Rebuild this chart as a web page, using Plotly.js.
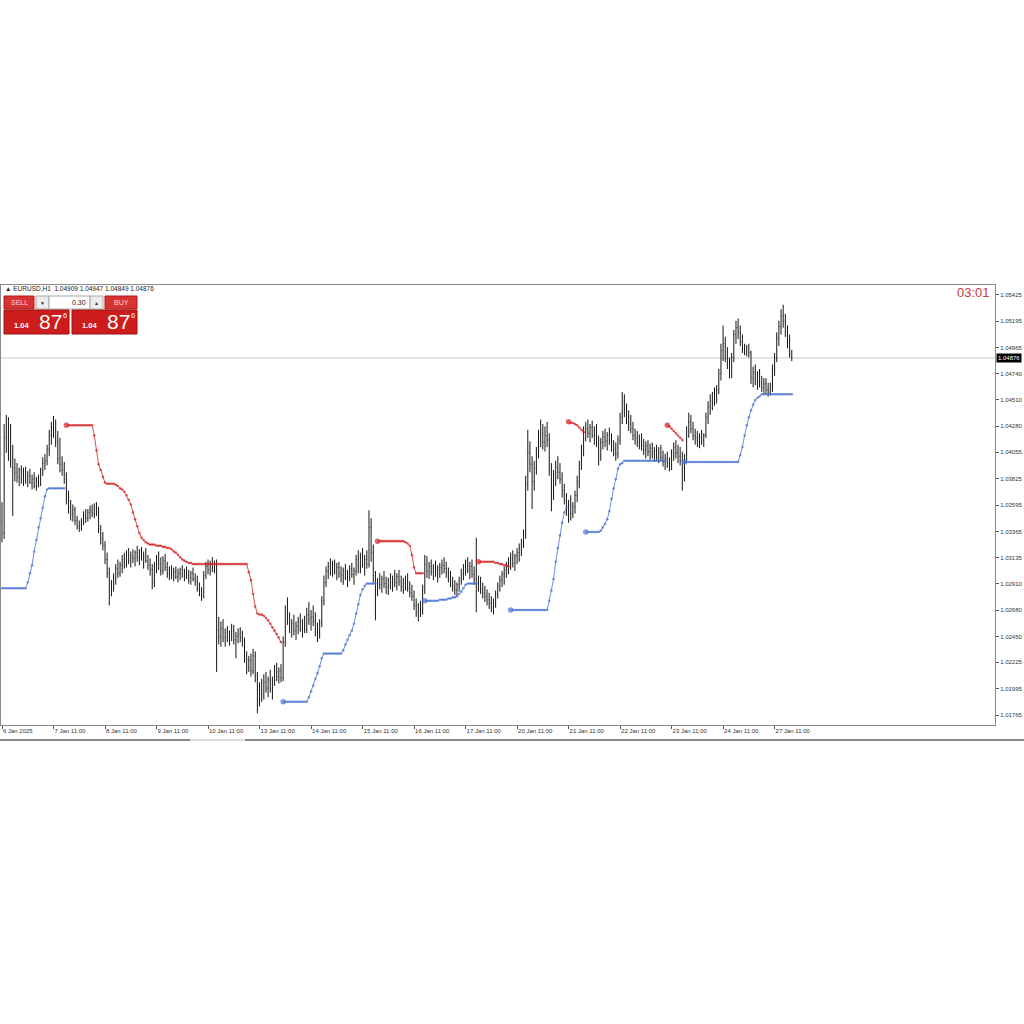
<!DOCTYPE html>
<html>
<head>
<meta charset="utf-8">
<script src="https://cdn.plot.ly/plotly-3.0.1.min.js"></script>
<style>html,body{margin:0;padding:0;background:#fff;}#chart{width:1024px;height:1024px;}</style>
</head>
<body>
<div id="chart"></div>
<script>
// ---- EURUSD H1 bars ----
const openP = [
1.0345,1.0335,1.0418,1.0425,1.0410,1.0400,1.0392,1.0388,1.0384,1.0390,
1.0382,1.0387,1.0380,1.0385,1.0379,1.0382,1.0376,1.0380,1.0378,1.0390,
1.0396,1.0398,1.0408,1.0420,1.0428,1.0425,1.0415,1.0400,1.0395,1.0390,
1.0382,1.0365,1.0358,1.0352,1.0355,1.0346,1.0341,1.0339,1.0345,1.0350,
1.0348,1.0353,1.0355,1.0352,1.0357,1.0354,1.0338,1.0330,1.0324,1.0312,
1.0300,1.0285,1.0290,1.0296,1.0304,1.0300,1.0307,1.0312,1.0308,1.0316,
1.0311,1.0315,1.0313,1.0318,1.0314,1.0317,1.0312,1.0315,1.0311,1.0307,
1.0303,1.0292,1.0306,1.0312,1.0308,1.0302,1.0311,1.0305,1.0300,1.0302,
1.0298,1.0301,1.0297,1.0300,1.0303,1.0299,1.0301,1.0298,1.0296,1.0300,
1.0295,1.0293,1.0287,1.0283,1.0280,1.0298,1.0306,1.0303,1.0308,1.0305,
1.0307,1.0250,1.0245,1.0252,1.0244,1.0248,1.0243,1.0246,1.0250,1.0242,
1.0245,1.0247,1.0244,1.0240,1.0226,1.0218,1.0224,1.0215,1.0228,1.0210,
1.0190,1.0198,1.0195,1.0205,1.0200,1.0207,1.0199,1.0206,1.0214,1.0210,
1.0215,1.0209,1.0240,1.0265,1.0260,1.0252,1.0256,1.0250,1.0254,1.0258,
1.0252,1.0256,1.0251,1.0264,1.0260,1.0262,1.0258,1.0250,1.0246,1.0256,
1.0276,1.0292,1.0302,1.0306,1.0304,1.0308,1.0302,1.0305,1.0300,1.0298,
1.0302,1.0296,1.0300,1.0304,1.0299,1.0302,1.0312,1.0306,1.0314,1.0309,
1.0312,1.0308,1.0340,1.0318,1.0298,1.0285,1.0292,1.0290,1.0295,1.0291,
1.0288,1.0293,1.0290,1.0295,1.0292,1.0297,1.0293,1.0288,1.0291,1.0294,
1.0287,1.0283,1.0280,1.0272,1.0266,1.0270,1.0268,1.0285,1.0308,1.0302,
1.0306,1.0301,1.0304,1.0300,1.0303,1.0305,1.0307,1.0304,1.0300,1.0296,
1.0292,1.0288,1.0286,1.0290,1.0294,1.0300,1.0305,1.0307,1.0303,1.0306,
1.0299,1.0295,1.0290,1.0292,1.0286,1.0283,1.0280,1.0277,1.0274,1.0271,
1.0275,1.0282,1.0289,1.0294,1.0299,1.0303,1.0306,1.0310,1.0313,1.0309,
1.0315,1.0318,1.0322,1.0328,1.0334,1.0378,1.0405,1.0395,1.0380,1.0392,
1.0405,1.0418,1.0422,1.0414,1.0420,1.0416,1.0390,1.0368,1.0384,1.0392,
1.0388,1.0382,1.0372,1.0364,1.0356,1.0360,1.0352,1.0358,1.0368,1.0380,
1.0394,1.0406,1.0423,1.0426,1.0422,1.0427,1.0420,1.0424,1.0414,1.0402,
1.0414,1.0419,1.0415,1.0420,1.0416,1.0410,1.0408,1.0404,1.0416,1.0436,
1.0450,1.0442,1.0436,1.0430,1.0426,1.0420,1.0418,1.0414,1.0416,1.0411,
1.0408,1.0411,1.0406,1.0409,1.0404,1.0407,1.0402,1.0405,1.0401,1.0397,
1.0400,1.0396,1.0392,1.0404,1.0410,1.0405,1.0402,1.0398,1.0385,1.0400,
1.0424,1.0432,1.0426,1.0420,1.0418,1.0415,1.0419,1.0416,1.0420,1.0436,
1.0445,1.0450,1.0454,1.0456,1.0460,1.0474,1.0494,1.0500,1.0490,1.0482,
1.0474,1.0488,1.0508,1.0514,1.0510,1.0502,1.0496,1.0494,1.0496,1.0492,
1.0470,1.0475,1.0468,1.0472,1.0466,1.0462,1.0465,1.0460,1.0458,1.0462,
1.0478,1.0488,1.0505,1.0515,1.0524,1.0520,1.0510,1.0502,1.04909
];
const highP = [
1.0362,1.0430,1.0438,1.0436,1.0430,1.0412,1.0400,1.0396,1.0392,1.0394,
1.0392,1.0393,1.0389,1.0391,1.0386,1.0388,1.0384,1.0386,1.0392,1.0401,
1.0404,1.0412,1.0425,1.0432,1.0437,1.0434,1.0424,1.0418,1.0402,1.0397,
1.0388,1.0372,1.0364,1.0360,1.0358,1.0350,1.0346,1.0348,1.0354,1.0356,
1.0356,1.0359,1.0360,1.0361,1.0362,1.0358,1.0342,1.0336,1.0328,1.0318,
1.0305,1.0294,1.0300,1.0308,1.0312,1.0310,1.0316,1.0318,1.0320,1.0322,
1.0319,1.0321,1.0320,1.0324,1.0321,1.0323,1.0319,1.0322,1.0316,1.0313,
1.0308,1.0310,1.0316,1.0319,1.0314,1.0315,1.0317,1.0310,1.0306,1.0307,
1.0305,1.0306,1.0304,1.0305,1.0307,1.0304,1.0306,1.0303,1.0302,1.0305,
1.0300,1.0298,1.0292,1.0288,1.0302,1.0310,1.0312,1.0311,1.0314,1.0311,
1.0312,1.0262,1.0258,1.0260,1.0252,1.0254,1.0250,1.0256,1.0255,1.0249,
1.0252,1.0253,1.0250,1.0244,1.0232,1.0228,1.0230,1.0234,1.0232,1.0214,
1.0205,1.0208,1.0212,1.0214,1.0210,1.0216,1.0210,1.0220,1.0222,1.0218,
1.0221,1.0245,1.0272,1.0279,1.0266,1.0260,1.0264,1.0258,1.0262,1.0265,
1.0260,1.0263,1.0270,1.0275,1.0268,1.0272,1.0266,1.0257,1.0260,1.0280,
1.0298,1.0306,1.0310,1.0313,1.0311,1.0312,1.0309,1.0310,1.0306,1.0305,
1.0308,1.0303,1.0307,1.0309,1.0305,1.0316,1.0320,1.0318,1.0322,1.0316,
1.0320,1.0355,1.0348,1.0325,1.0302,1.0296,1.0300,1.0298,1.0302,1.0297,
1.0296,1.0300,1.0298,1.0303,1.0300,1.0303,1.0298,1.0296,1.0298,1.0300,
1.0293,1.0290,1.0285,1.0278,1.0274,1.0276,1.0290,1.0316,1.0315,1.0310,
1.0312,1.0308,1.0311,1.0307,1.0309,1.0312,1.0314,1.0310,1.0305,1.0302,
1.0297,1.0294,1.0292,1.0297,1.0304,1.0308,1.0312,1.0314,1.0310,1.0312,
1.0306,1.0331,1.0298,1.0297,1.0292,1.0289,1.0286,1.0283,1.0280,1.0278,
1.0285,1.0292,1.0298,1.0302,1.0306,1.0310,1.0314,1.0318,1.0320,1.0317,
1.0322,1.0326,1.0330,1.0338,1.0385,1.0425,1.0415,1.0402,1.0398,1.0410,
1.0425,1.0434,1.0430,1.0428,1.0432,1.0422,1.0396,1.0390,1.0398,1.0402,
1.0396,1.0388,1.0378,1.0370,1.0364,1.0368,1.0362,1.0372,1.0385,1.0398,
1.0412,1.0428,1.0432,1.0434,1.0430,1.0433,1.0428,1.0430,1.0420,1.0418,
1.0424,1.0426,1.0423,1.0427,1.0422,1.0416,1.0414,1.0420,1.0440,1.0458,
1.0456,1.0448,1.0442,1.0438,1.0432,1.0426,1.0424,1.0421,1.0422,1.0417,
1.0415,1.0416,1.0413,1.0414,1.0410,1.0412,1.0410,1.0412,1.0407,1.0404,
1.0406,1.0401,1.0408,1.0414,1.0416,1.0412,1.0410,1.0406,1.0404,1.0428,
1.0440,1.0438,1.0432,1.0426,1.0424,1.0422,1.0425,1.0422,1.0440,1.0450,
1.0456,1.0458,1.0462,1.0464,1.0478,1.0500,1.0516,1.0506,1.0497,1.0488,
1.0492,1.0512,1.0520,1.0522,1.0516,1.0508,1.0500,1.0499,1.0500,1.0494,
1.0480,1.0482,1.0476,1.0478,1.0472,1.0470,1.0470,1.0466,1.0466,1.0482,
1.0492,1.0510,1.0520,1.0530,1.0534,1.0526,1.0516,1.0508,1.04947
];
const lowP = [
1.0327,1.0330,1.0405,1.0398,1.0392,1.0350,1.0380,1.0379,1.0376,1.0378,
1.0376,1.0378,1.0375,1.0378,1.0373,1.0374,1.0372,1.0375,1.0376,1.0385,
1.0390,1.0394,1.0402,1.0412,1.0418,1.0410,1.0395,1.0388,1.0385,1.0378,
1.0360,1.0352,1.0346,1.0345,1.0342,1.0338,1.0336,1.0337,1.0342,1.0344,
1.0345,1.0347,1.0349,1.0348,1.0350,1.0335,1.0325,1.0320,1.0308,1.0296,
1.0272,1.0280,1.0284,1.0290,1.0296,1.0297,1.0300,1.0304,1.0305,1.0308,
1.0305,1.0309,1.0306,1.0310,1.0307,1.0311,1.0304,1.0309,1.0303,1.0298,
1.0286,1.0288,1.0300,1.0303,1.0298,1.0299,1.0302,1.0296,1.0294,1.0295,
1.0293,1.0295,1.0292,1.0294,1.0296,1.0293,1.0295,1.0291,1.0290,1.0293,
1.0289,1.0284,1.0280,1.0276,1.0278,1.0295,1.0299,1.0298,1.0301,1.0300,
1.0214,1.0238,1.0236,1.0240,1.0236,1.0240,1.0237,1.0241,1.0238,1.0226,
1.0239,1.0240,1.0236,1.0222,1.0212,1.0214,1.0210,1.0212,1.0205,1.0178,
1.0184,1.0188,1.0190,1.0196,1.0192,1.0196,1.0190,1.0202,1.0206,1.0204,
1.0205,1.0206,1.0236,1.0255,1.0248,1.0244,1.0246,1.0242,1.0247,1.0249,
1.0244,1.0248,1.0248,1.0255,1.0250,1.0254,1.0245,1.0240,1.0243,1.0253,
1.0272,1.0288,1.0295,1.0298,1.0297,1.0299,1.0294,1.0296,1.0292,1.0290,
1.0294,1.0288,1.0293,1.0296,1.0290,1.0298,1.0300,1.0300,1.0305,1.0298,
1.0304,1.0305,1.0310,1.0292,1.0259,1.0280,1.0286,1.0283,1.0287,1.0282,
1.0281,1.0286,1.0284,1.0288,1.0285,1.0289,1.0284,1.0282,1.0285,1.0284,
1.0279,1.0276,1.0268,1.0262,1.0258,1.0262,1.0264,1.0282,1.0296,1.0295,
1.0298,1.0294,1.0297,1.0292,1.0296,1.0299,1.0300,1.0296,1.0292,1.0288,
1.0284,1.0281,1.0280,1.0284,1.0290,1.0294,1.0298,1.0300,1.0295,1.0296,
1.0290,1.0266,1.0284,1.0282,1.0278,1.0275,1.0272,1.0269,1.0266,1.0264,
1.0270,1.0278,1.0284,1.0288,1.0290,1.0296,1.0299,1.0303,1.0305,1.0302,
1.0308,1.0310,1.0315,1.0322,1.0330,1.0372,1.0388,1.0356,1.0372,1.0386,
1.0400,1.0410,1.0408,1.0406,1.0410,1.0385,1.0354,1.0364,1.0376,1.0382,
1.0378,1.0366,1.0360,1.0350,1.0344,1.0346,1.0348,1.0352,1.0362,1.0374,
1.0390,1.0402,1.0415,1.0418,1.0414,1.0418,1.0412,1.0410,1.0394,1.0398,
1.0408,1.0410,1.0407,1.0412,1.0406,1.0402,1.0398,1.0400,1.0412,1.0430,
1.0436,1.0430,1.0424,1.0422,1.0416,1.0412,1.0410,1.0408,1.0407,1.0403,
1.0400,1.0402,1.0399,1.0400,1.0397,1.0398,1.0396,1.0398,1.0393,1.0390,
1.0392,1.0389,1.0390,1.0398,1.0400,1.0396,1.0394,1.0372,1.0380,1.0396,
1.0418,1.0422,1.0416,1.0412,1.0410,1.0409,1.0412,1.0410,1.0418,1.0430,
1.0438,1.0442,1.0446,1.0448,1.0456,1.0468,1.0485,1.0484,1.0478,1.0470,
1.0470,1.0484,1.0500,1.0504,1.0498,1.0492,1.0490,1.0489,1.0488,1.0465,
1.0462,1.0464,1.0460,1.0462,1.0458,1.0456,1.0456,1.0454,1.0455,1.0458,
1.0472,1.0484,1.0498,1.0508,1.0514,1.0506,1.0496,1.0488,1.04849
];
const closeP = [
1.0335,1.0418,1.0425,1.0410,1.0400,1.0392,1.0388,1.0384,1.0390,1.0382,
1.0387,1.0380,1.0385,1.0379,1.0382,1.0376,1.0380,1.0378,1.0390,1.0396,
1.0398,1.0408,1.0420,1.0428,1.0425,1.0415,1.0400,1.0395,1.0390,1.0382,
1.0365,1.0358,1.0352,1.0355,1.0346,1.0341,1.0339,1.0345,1.0350,1.0348,
1.0353,1.0355,1.0352,1.0357,1.0354,1.0338,1.0330,1.0324,1.0312,1.0300,
1.0285,1.0290,1.0296,1.0304,1.0300,1.0307,1.0312,1.0308,1.0316,1.0311,
1.0315,1.0313,1.0318,1.0314,1.0317,1.0312,1.0315,1.0311,1.0307,1.0303,
1.0292,1.0306,1.0312,1.0308,1.0302,1.0311,1.0305,1.0300,1.0302,1.0298,
1.0301,1.0297,1.0300,1.0303,1.0299,1.0301,1.0298,1.0296,1.0300,1.0295,
1.0293,1.0287,1.0283,1.0280,1.0298,1.0306,1.0303,1.0308,1.0305,1.0307,
1.0250,1.0245,1.0252,1.0244,1.0248,1.0243,1.0246,1.0250,1.0242,1.0245,
1.0247,1.0244,1.0240,1.0226,1.0218,1.0224,1.0215,1.0228,1.0210,1.0190,
1.0198,1.0195,1.0205,1.0200,1.0207,1.0199,1.0206,1.0214,1.0210,1.0215,
1.0209,1.0240,1.0265,1.0260,1.0252,1.0256,1.0250,1.0254,1.0258,1.0252,
1.0256,1.0251,1.0264,1.0260,1.0262,1.0258,1.0250,1.0246,1.0256,1.0276,
1.0292,1.0302,1.0306,1.0304,1.0308,1.0302,1.0305,1.0300,1.0298,1.0302,
1.0296,1.0300,1.0304,1.0299,1.0302,1.0312,1.0306,1.0314,1.0309,1.0312,
1.0308,1.0340,1.0318,1.0298,1.0285,1.0292,1.0290,1.0295,1.0291,1.0288,
1.0293,1.0290,1.0295,1.0292,1.0297,1.0293,1.0288,1.0291,1.0294,1.0287,
1.0283,1.0280,1.0272,1.0266,1.0270,1.0268,1.0285,1.0308,1.0302,1.0306,
1.0301,1.0304,1.0300,1.0303,1.0305,1.0307,1.0304,1.0300,1.0296,1.0292,
1.0288,1.0286,1.0290,1.0294,1.0300,1.0305,1.0307,1.0303,1.0306,1.0299,
1.0295,1.0290,1.0292,1.0286,1.0283,1.0280,1.0277,1.0274,1.0271,1.0275,
1.0282,1.0289,1.0294,1.0299,1.0303,1.0306,1.0310,1.0313,1.0309,1.0315,
1.0318,1.0322,1.0328,1.0334,1.0378,1.0405,1.0395,1.0380,1.0392,1.0405,
1.0418,1.0422,1.0414,1.0420,1.0416,1.0390,1.0368,1.0384,1.0392,1.0388,
1.0382,1.0372,1.0364,1.0356,1.0360,1.0352,1.0358,1.0368,1.0380,1.0394,
1.0406,1.0423,1.0426,1.0422,1.0427,1.0420,1.0424,1.0414,1.0402,1.0414,
1.0419,1.0415,1.0420,1.0416,1.0410,1.0408,1.0404,1.0416,1.0436,1.0450,
1.0442,1.0436,1.0430,1.0426,1.0420,1.0418,1.0414,1.0416,1.0411,1.0408,
1.0411,1.0406,1.0409,1.0404,1.0407,1.0402,1.0405,1.0401,1.0397,1.0400,
1.0396,1.0392,1.0404,1.0410,1.0405,1.0402,1.0398,1.0385,1.0400,1.0424,
1.0432,1.0426,1.0420,1.0418,1.0415,1.0419,1.0416,1.0420,1.0436,1.0445,
1.0450,1.0454,1.0456,1.0460,1.0474,1.0494,1.0500,1.0490,1.0482,1.0474,
1.0488,1.0508,1.0514,1.0510,1.0502,1.0496,1.0494,1.0496,1.0492,1.0470,
1.0475,1.0468,1.0472,1.0466,1.0462,1.0465,1.0460,1.0458,1.0462,1.0478,
1.0488,1.0505,1.0515,1.0524,1.0520,1.0510,1.0502,1.0491,1.04876
];

// ---- trailing-stop indicator segments (bar index where each segment starts) ----
const blueStarts = [0, 131, 197, 237, 272, 318];
const blueSeg1 = [1.0287,1.0287,1.0287,1.0287,1.0287,1.0287,1.0287,1.0287,1.0287,1.0287,1.0287,1.0287,
  1.0292,1.0300,1.0307,1.0319,1.0329,1.0340,1.0348,1.0357,1.0367,1.0373,
  1.0374,1.0374,1.0374,1.0374,1.0374,1.0374,1.0374,1.0374];
const blueSeg2 = [1.0188,1.0188,1.0188,1.0188,1.0188,1.0188,1.0188,1.0188,1.0188,1.0188,1.0188,1.0188,
  1.0192,1.0197,1.0202,1.0208,1.0213,1.0219,1.0226,
  1.0230,1.0230,1.0230,1.0230,1.0230,1.0230,1.0230,1.0230,1.0230,
  1.0233,1.0238,1.0242,1.0246,1.0250,1.0256,1.0265,1.0273,1.0281,1.0286,1.0289,
  1.0291,1.0291,1.0291,1.0291,1.0291];
const blueSeg3 = [1.0276,1.0276,1.0276,1.0276,1.0276,1.0276,1.0276,
  1.0277,1.0277,1.0277,1.0277,
  1.0278,1.0278,1.0279,1.0279,1.0280,1.0282,1.0284,1.0287,1.0290,
  1.0291,1.0291,1.0291,1.0291,1.0291];
const blueSeg4 = [1.0268,1.0268,1.0268,1.0268,1.0268,1.0268,1.0268,1.0268,1.0268,1.0268,1.0268,1.0268,1.0268,1.0268,1.0268,1.0268,1.0268,1.0268,
  1.0276,1.0285,1.0295,1.0310,1.0322,1.0333,1.0344,1.0353,1.0357];
const blueSeg5 = [1.0336,1.0336,1.0336,1.0336,1.0336,1.0336,1.0336,
  1.0337,1.0340,1.0343,1.0347,1.0354,1.0365,1.0374,1.0382,1.0391,1.0395,1.0396,
  1.0398,1.0398,1.0398,1.0398,1.0398,1.0398,1.0398,1.0398,1.0398,1.0398,
  1.0398,1.0398,1.0398,1.0398,1.0398,1.0398,1.0398,1.0398,1.0398,1.0398];
const blueSeg6 = [1.0397,1.0397,1.0397,1.0397,1.0397,1.0397,1.0397,1.0397,1.0397,1.0397,1.0397,1.0397,1.0397,
  1.0397,1.0397,1.0397,1.0397,1.0397,1.0397,1.0397,1.0397,1.0397,1.0397,1.0397,1.0397,1.0397,
  1.0403,1.0410,1.0420,1.0429,1.0436,1.0442,1.0447,1.0451,1.0453,1.0454,
  1.0456,1.0456,1.0456,1.0456,1.0456,1.0456,1.0456,1.0456,1.0456,1.0456,1.0456,1.0456,1.0456,1.0456,1.0456];
const blueSegments = [blueSeg1, blueSeg2, blueSeg3, blueSeg4, blueSeg5, blueSeg6];

const redStarts = [30, 175, 222, 264, 310];
const redSeg1 = [1.0429,1.0429,1.0429,1.0429,1.0429,1.0429,1.0429,1.0429,1.0429,1.0429,1.0429,1.0429,1.0429,
  1.0420,1.0407,1.0395,1.0390,1.0384,1.0379,
  1.0378,1.0378,1.0378,1.0378,
  1.0377,1.0376,1.0374,1.0373,1.0371,1.0368,1.0364,1.0360,1.0353,1.0347,1.0341,1.0335,1.0331,1.0329,1.0327,1.0326,
  1.0325,1.0325,1.0325,1.0324,1.0324,1.0324,1.0323,1.0323,1.0322,1.0322,
  1.0321,1.0319,1.0318,1.0316,1.0314,1.0312,1.0311,1.0310,1.0309,1.0309,
  1.0308,1.0308,1.0308,1.0308,1.0308,1.0308,1.0308,1.0308,1.0308,1.0308,1.0308,1.0308,1.0308,
  1.0308,1.0308,1.0308,1.0308,1.0308,1.0308,1.0308,1.0308,1.0308,1.0308,1.0308,1.0308,1.0308,
  1.0301,1.0294,1.0282,1.0271,1.0265,1.0264,1.0264,
  1.0263,1.0261,1.0259,1.0256,1.0253,1.0250,1.0247,1.0244,1.0240];
const redSeg2 = [1.0328,1.0328,1.0328,1.0328,1.0328,1.0328,1.0328,1.0328,1.0328,1.0328,1.0328,1.0328,1.0328,
  1.0327,1.0326,1.0324,1.0316,1.0305,1.0300,1.0300,1.0300,1.0300];
const redSeg3 = [1.0310,1.0310,1.0310,1.0310,1.0310,1.0310,1.0310,1.0310,
  1.0309,1.0309,1.0308,1.0308,1.0307,1.0307,1.0306];
const redSeg4 = [1.0432,1.0431,1.0431,1.0430,1.0429,1.0427,1.0425,1.0423];
const redSeg5 = [1.0429,1.0428,1.0426,1.0424,1.0422,1.0420,1.0418,1.0416];
const redSegments = [redSeg1, redSeg2, redSeg3, redSeg4, redSeg5];

// ---- axis labels ----
const xTickBars = [0,24,48,72,96,120,144,168,192,216,240,264,288,312,336,360];
const xTickText = ["6 Jan 2025","7 Jan 11:00","8 Jan 11:00","9 Jan 11:00","10 Jan 11:00","13 Jan 11:00",
  "14 Jan 11:00","15 Jan 11:00","16 Jan 11:00","17 Jan 11:00","20 Jan 11:00","21 Jan 11:00",
  "22 Jan 11:00","23 Jan 11:00","24 Jan 11:00","27 Jan 11:00"];
const yTickVals = [1.05425,1.05195,1.04965,1.04740,1.04510,1.04280,1.04055,1.03825,1.03595,
  1.03365,1.03135,1.02910,1.02680,1.02450,1.02225,1.01995,1.01765];
const yTickText = ["1.05425","1.05195","1.04965","1.04740","1.04510","1.04280","1.04055","1.03825","1.03595",
  "1.03365","1.03135","1.02910","1.02680","1.02450","1.02225","1.01995","1.01765"];
const symbolInfo = "▲ EURUSD,H1  1.04909 1.04947 1.04849 1.04876";
const lastPrice = 1.04876;
const timerText = "03:01";

// ---- build traces ----
const barIdx = closeP.map((_, i) => i);

function buildLine(starts, segs) {
  const xs = [], ys = [], sizes = [];
  segs.forEach((seg, k) => {
    seg.forEach((v, j) => {
      xs.push(starts[k] + j);
      ys.push(v);
      sizes.push(j === 0 && starts[k] > 0 ? 5.5 : 2.6);
    });
    xs.push(null); ys.push(null); sizes.push(0);
  });
  return {xs, ys, sizes};
}
const blue = buildLine(blueStarts, blueSegments);
const red = buildLine(redStarts, redSegments);

const BLUE = '#4a72d4';
const RED = '#d42222';

const traces = [
  {
    type: 'ohlc', x: barIdx, open: openP, high: highP, low: lowP, close: closeP,
    increasing: {line: {color: '#161616', width: 1}},
    decreasing: {line: {color: '#161616', width: 1}},
    tickwidth: 0.2, hoverinfo: 'skip', showlegend: false
  },
  {
    type: 'scatter', mode: 'lines+markers', x: blue.xs, y: blue.ys, connectgaps: false,
    line: {color: BLUE, width: 0.8}, marker: {color: BLUE, size: blue.sizes, line: {width: 0}},
    hoverinfo: 'skip', showlegend: false
  },
  {
    type: 'scatter', mode: 'lines+markers', x: red.xs, y: red.ys, connectgaps: false,
    line: {color: RED, width: 0.8}, marker: {color: RED, size: red.sizes, line: {width: 0}},
    hoverinfo: 'skip', showlegend: false
  }
];

// ---- pixel helpers for decorative UI (plot area: x 1..995, y 285..725) ----
const fx = px => (px - 1) / 994;
const fy = py => (725 - py) / 440;

function rect(x0, y0, x1, y1, fill, line) {
  return {type: 'rect', xref: 'paper', yref: 'paper', x0: fx(x0), x1: fx(x1), y0: fy(y1), y1: fy(y0),
    fillcolor: fill, line: {color: line, width: 1}, layer: 'above'};
}
function txt(px, py, text, size, color, anchor, bold) {
  return {xref: 'paper', yref: 'paper', x: fx(px), y: fy(py), text: bold ? '<b>' + text + '</b>' : text,
    showarrow: false, xanchor: anchor || 'center', yanchor: 'middle',
    font: {size: size, color: color, family: 'Liberation Sans, Arial, sans-serif'}};
}

const shapes = [
  {type: 'line', xref: 'paper', yref: 'y', x0: 0, x1: 1, y0: lastPrice, y1: lastPrice,
    line: {color: '#c8c8c8', width: 1}, layer: 'below'},
  // one-click trading panel
  rect(4, 296, 34, 309, '#d83333', '#b01818'),
  rect(36, 296, 49, 309, '#ececec', '#a8a8a8'),
  rect(49, 296, 90, 309, '#ffffff', '#a8a8a8'),
  rect(90, 296, 103, 309, '#ececec', '#a8a8a8'),
  rect(105, 296, 137, 309, '#d83333', '#b01818'),
  rect(4, 310, 69, 334, '#cc1c1c', '#9c1010'),
  rect(72, 310, 137, 334, '#cc1c1c', '#9c1010'),
  // window bottom edge
  {type: 'line', xref: 'paper', yref: 'paper', x0: fx(0), x1: fx(190), y0: fy(740), y1: fy(740), line: {color: '#8a8a8a', width: 2}},
  {type: 'line', xref: 'paper', yref: 'paper', x0: fx(190), x1: fx(245), y0: fy(740), y1: fy(740), line: {color: '#dddddd', width: 2}},
  {type: 'line', xref: 'paper', yref: 'paper', x0: fx(245), x1: fx(1024), y0: fy(740), y1: fy(740), line: {color: '#8a8a8a', width: 2}}
];

const annotations = [
  txt(3, 288.5, symbolInfo, 6.5, '#222', 'left'),
  txt(19, 302.5, 'SELL', 7, '#ffd4d4'),
  txt(42.5, 302.5, '▼', 5, '#333'),
  txt(88, 302.5, '0.30', 7, '#222', 'right'),
  txt(96.5, 302.5, '▲', 5, '#333'),
  txt(121, 302.5, 'BUY', 7, '#ffd4d4'),
  txt(21.5, 325, '1.04', 7.5, '#ffffff', 'center', true),
  txt(50, 321.5, '87', 21, '#ffffff'),
  txt(64.5, 315.5, '6', 7.5, '#ffffff'),
  txt(89.5, 325, '1.04', 7.5, '#ffffff', 'center', true),
  txt(118, 321.5, '87', 21, '#ffffff'),
  txt(132.5, 315.5, '6', 7.5, '#ffffff'),
  txt(992, 292, timerText, 13, '#c93c3c', 'right'),
  {xref: 'paper', yref: 'y', x: 1, y: lastPrice, text: lastPrice.toFixed(5), showarrow: false,
    xanchor: 'left', yanchor: 'middle', xshift: 1, bgcolor: '#000', borderpad: 1,
    font: {size: 6, color: '#fff', family: 'Liberation Sans, Arial, sans-serif'}}
];

const layout = {
  width: 1024, height: 1024,
  margin: {l: 1, r: 29, t: 285, b: 299, pad: 0},
  paper_bgcolor: '#fff', plot_bgcolor: '#fff',
  font: {family: 'Liberation Sans, Arial, sans-serif', size: 6, color: '#333'},
  showlegend: false,
  xaxis: {
    range: [-0.47, 462.7], showgrid: false, zeroline: false,
    showline: true, linecolor: '#8a8a8a', linewidth: 1, mirror: true,
    ticks: 'outside', ticklen: 3, tickcolor: '#555',
    tickvals: xTickBars, ticktext: xTickText, ticklabelposition: 'outside right',
    tickfont: {size: 6, color: '#333'},
    rangeslider: {visible: false}, fixedrange: true
  },
  yaxis: {
    range: [1.01678, 1.05512], side: 'right', showgrid: false, zeroline: false,
    showline: true, linecolor: '#8a8a8a', linewidth: 1, mirror: true,
    ticks: 'outside', ticklen: 3, tickcolor: '#555',
    tickvals: yTickVals, ticktext: yTickText,
    tickfont: {size: 6, color: '#333'}, fixedrange: true
  },
  shapes: shapes,
  annotations: annotations
};

Plotly.newPlot('chart', traces, layout, {staticPlot: true, displayModeBar: false});
</script>
</body>
</html>
